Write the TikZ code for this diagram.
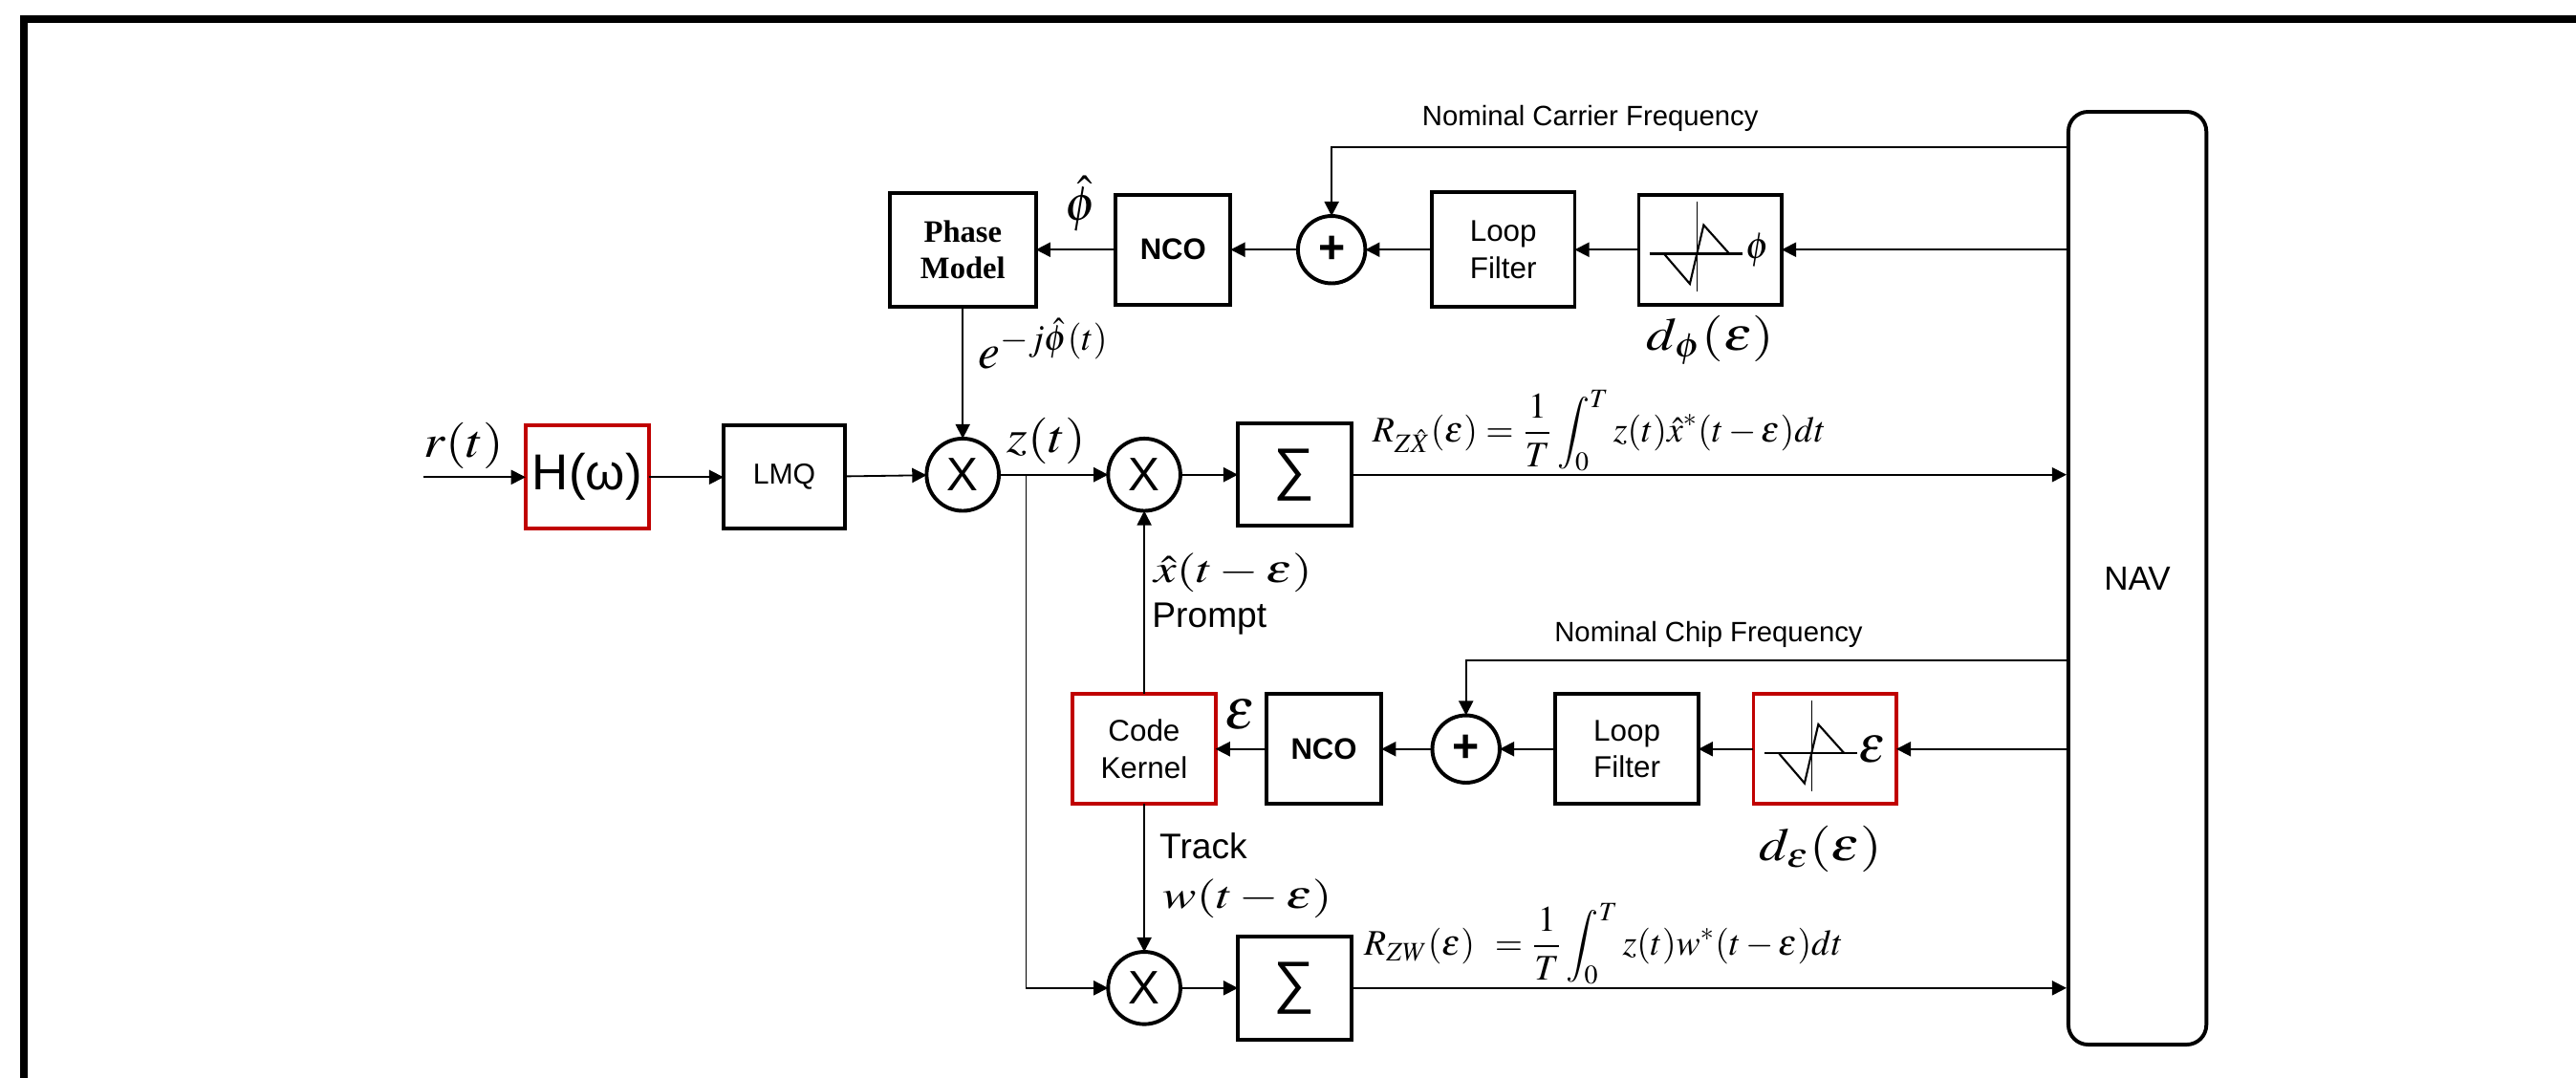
\documentclass[tikz,border=0pt]{standalone}
\usepackage{amsmath}
\usepackage{mathptmx}
\usepackage[no-math]{fontspec}
\setmainfont{Liberation Sans}
\newfontfamily\pmfont{Liberation Serif}
\usepackage{graphicx}
\definecolor{BoxRed}{RGB}{192,0,0}
\usetikzlibrary{arrows.meta,positioning,calc}
\newcommand{\fsz}[2]{\fontsize{#1}{#2}\selectfont}
\newcommand{\wx}[2][1.3]{\scalebox{#1}[1]{#2}}
\newcommand{\sgraph}[3]{%
  \begin{scope}[shift={(#1.center)}]
    \draw[line width=0.7pt] (-37,2.5) -- (19.5,2.5);
    \draw[line width=0.3pt] (-7.8,-29.5) -- (-7.8,25.6);
    \draw[line width=0.7pt] (-27.8,2.9) -- (-12.4,20.8) -- (-4,-15) -- (11.5,2.3);
    \node[inner sep=0pt,font=\fsz{#3}{#3}] (#1-sym) at (29,0) {$#2$};
  \end{scope}}

\begin{document}
\begin{tikzpicture}[x=0.02cm,y=-0.02cm,
  blk/.style={draw,line width=1.3pt,minimum width=1.74cm,minimum height=1.34cm,
              inner sep=0pt,outer sep=0pt,align=center,font=\fsz{10.4}{12.8}},
  redblk/.style={blk,draw=BoxRed},
  mix/.style={draw,circle,line width=1.3pt,minimum size=0.88cm,inner sep=0pt,
              outer sep=0pt,font=\fsz{16.3}{16.3}},
  add/.style={draw,circle,line width=1.3pt,minimum size=0.82cm,inner sep=0pt,
              outer sep=0pt,font=\fsz{16}{16}\bfseries},
  sig/.style={-{Triangle[length=5pt,width=5pt]},line width=0.6pt},
  lbl/.style={inner sep=0pt,font=\fsz{16}{18}},
  fml/.style={inner sep=0pt,font=\fsz{12.5}{15}},
  note/.style={inner sep=0pt,font=\fsz{9.7}{11}}]

  \useasboundingbox (0,0) rectangle (1568,656);
  \draw[line width=2.65pt] (14.5,700) -- (14.5,11.6) -- (1600,11.6);

  % signal path
  \coordinate (in) at (258,290.5);
  \node[redblk,minimum width=1.5cm,minimum height=1.26cm,font=\fsz{17.5}{17.5}]
       (H) at (357.4,290.5) {H(ω)};
  \node[blk,minimum width=1.48cm,minimum height=1.26cm,font=\fsz{10}{12},
        right=0.91cm of H] (LMQ) {LMQ};
  \node[mix] (X1) at (586,289) {X};
  \node[mix] (X2) at (696.5,289) {X};
  \node[blk,minimum width=1.38cm,minimum height=1.24cm,font=\fsz{20}{20},
        right=0.7cm of X2] (S1) {∑};
  \coordinate (J) at (624.6,289);
  \node[mix] (X3) at (696.5,601.5) {X};
  \node[blk,minimum width=1.38cm,minimum height=1.26cm,font=\fsz{20}{20},
        right=0.7cm of X3] (S2) {∑};
  \node[draw,rounded corners=0.24cm,line width=1.3pt,minimum width=1.68cm,
        minimum height=11.36cm,font=\fsz{11.6}{12}] (NAV) at (1301,352) {NAV};

  % carrier loop
  \node[blk] (Dp) at (1041,152) {};
  \node[blk,left=0.78cm of Dp,minimum height=1.4cm] (LF1) {Loop\\Filter};
  \node[add,left=0.81cm of LF1] (A1) {+};
  \node[blk,left=0.82cm of A1,minimum width=1.4cm,font=\fsz{10.3}{12}\bfseries]
       (NCO1) {NCO};
  \node[blk,left=0.97cm of NCO1,minimum width=1.78cm,minimum height=1.38cm,
        font=\pmfont\bfseries\fsz{10.8}{12.4}] (PM) {Phase\\Model};

  % code loop
  \node[redblk] (De) at (1110.8,456) {};
  \node[blk,left=0.67cm of De] (LF2) {Loop\\Filter};
  \node[add,left=0.68cm of LF2] (A2) {+};
  \node[blk,left=0.62cm of A2,minimum width=1.4cm,font=\fsz{10.3}{12}\bfseries]
       (NCO2) {NCO};
  \node[redblk,left=0.62cm of NCO2] (CK) {Code\\Kernel};

  \sgraph{Dp}{\phi}{13}
  \sgraph{De}{\varepsilon}{18}

  \draw[sig] (in) -- (H);
  \draw[sig] (H) -- (LMQ);
  \draw[sig] (LMQ) -- (X1);
  \draw[sig] (X1) -- (X2);
  \draw[sig] (X2) -- (S1);
  \draw[sig] (S1) -- (S1 -| NAV.west);
  \draw[sig] (J) |- (X3);
  \draw[sig] (X3) -- (S2);
  \draw[sig] (S2) -- (S2 -| NAV.west);

  \draw[sig] (PM.south -| X1) -- (X1);
  \draw[sig] (NCO1) -- (PM);
  \draw[sig] (A1) -- (NCO1);
  \draw[sig] (LF1) -- (A1);
  \draw[sig] (Dp) -- (LF1);
  \draw[sig] (NAV.west |- Dp) -- (Dp);
  \draw[sig] (NAV.west |- 0,89.6) -| (A1);

  \draw[sig] (CK.north -| X2) -- (X2);
  \draw[sig] (NCO2) -- (CK);
  \draw[sig] (A2) -- (NCO2);
  \draw[sig] (LF2) -- (A2);
  \draw[sig] (De) -- (LF2);
  \draw[sig] (NAV.west |- De) -- (De);
  \draw[sig] (NAV.west |- 0,402) -| (A2);
  \draw[sig] (CK.south -| X3) -- (X3);

  % labels
  \node[lbl] (rt) at (282.5,271.5) {\wx[1.15]{$r(t)$}};
  \node[lbl] (zt) at (637,268.5) {\wx[1.15]{$z(t)$}};
  \node[lbl,font=\fsz{17}{19}] (ph) at (658,124) {$\hat{\phi}$};
  \node[lbl,font=\fsz{17}{19},anchor=west] (ex) at (595,209) {$e^{-j\hat{\phi}(t)}$};
  \node[lbl] (dpl) at (1041,207) {\wx[1.2]{$d_\phi(\varepsilon)$}};
  \node[fml,anchor=south west] (RZX) at (835,287)
       {$\displaystyle R_{Z\hat{X}}(\varepsilon)=\frac{1}{T}\int_0^T z(t)\hat{x}^*(t-\varepsilon)dt$};
  \node[fml,anchor=south west] (RZW) at (830,599.5)
       {$\displaystyle R_{ZW}(\varepsilon)\;\,=\frac{1}{T}\int_0^T z(t)w^*(t-\varepsilon)dt$};
  \node[lbl,font=\fsz{13.5}{15},anchor=west] (xh) at (702,348.6)
       {\wx{$\hat{x}(t-\varepsilon)$}};
  \node[anchor=base west,inner sep=0pt,font=\fsz{12.3}{14}] (pr) at (701,382) {Prompt};
  \node[lbl,font=\fsz{20}{20}] (ep) at (755,435) {$\varepsilon$};
  \node[anchor=base west,inner sep=0pt,font=\fsz{12.3}{14}] (tr) at (705.5,522.6) {Track};
  \node[lbl,font=\fsz{13.5}{15},anchor=west] (wl) at (707.4,547)
       {\wx{$w(t-\varepsilon)$}};
  \node[lbl] (del) at (1108,517) {\wx[1.2]{$d_\varepsilon(\varepsilon)$}};
  \node[note] (ncf) at (968,72) {Nominal Carrier Frequency};
  \node[note] (nchf) at (1040,386.5) {Nominal Chip Frequency};
\end{tikzpicture}
\end{document}
